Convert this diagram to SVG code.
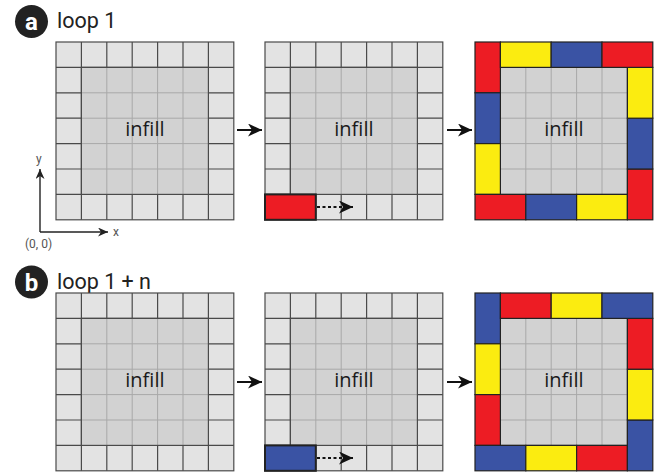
<svg xmlns="http://www.w3.org/2000/svg" xmlns:xlink="http://www.w3.org/1999/xlink" width="658" height="472" viewBox="0 0 658 472">
<style>
.lbl{font-family:Roboto,"Liberation Sans",sans-serif;font-size:21.5px;fill:#222}
.badge{font-family:Roboto,"Liberation Sans",sans-serif;font-size:24px;font-weight:bold;fill:#fff}
.infill{font-family:"Open Sans","Liberation Sans",sans-serif;font-size:20px;fill:#1a1a1a}
.ax{font-family:Roboto,"Liberation Sans",sans-serif;font-size:12px;fill:#555}
.dk{stroke:#4a4a4a;stroke-width:1.2;fill:none}
.lt{stroke:#a8a8a8;stroke-width:1;fill:none}
.blk{stroke:#222;stroke-width:1.2}
.r{fill:#ed1c24}.y{fill:#fbec10}.b{fill:#3a53a4}
.arr{stroke:#111;stroke-width:2;fill:none}
.dot{stroke:#111;stroke-width:2;fill:none;stroke-dasharray:3 2.5}
.axl{stroke:#222;stroke-width:1.4;fill:none}
</style>
<defs>
<marker id="ah" markerWidth="16" markerHeight="14" refX="14" refY="6.5" orient="auto" markerUnits="userSpaceOnUse">
<path d="M0,0 L14,6.5 L0,13 L4,6.5 z" fill="#111"/>
</marker>
<marker id="ahs" markerWidth="12" markerHeight="10" refX="10" refY="4.5" orient="auto" markerUnits="userSpaceOnUse">
<path d="M0,0 L10,4.5 L0,9 L3,4.5 z" fill="#222"/>
</marker>
<g id="inner">
<rect x="25.4" y="25.4" width="127" height="127" fill="#d2d2d2"/>
<path class="lt" d="M50.8,25.4V152.4M76.2,25.4V152.4M101.6,25.4V152.4M127,25.4V152.4M25.4,50.8H152.4M25.4,76.2H152.4M25.4,101.6H152.4M25.4,127H152.4"/>
<rect class="dk" x="25.4" y="25.4" width="127" height="127"/>
</g>
<g id="grid">
<rect x="0" y="0" width="177.8" height="177.8" fill="#e3e3e3"/>
<path class="dk" d="M25.4,0V177.8M50.8,0V177.8M76.2,0V177.8M101.6,0V177.8M127,0V177.8M152.4,0V177.8M0,25.4H177.8M0,50.8H177.8M0,76.2H177.8M0,101.6H177.8M0,127H177.8M0,152.4H177.8"/>
<use xlink:href="#inner"/>
<rect class="dk" x="0" y="0" width="177.8" height="177.8"/>
</g>
</defs>

<g id="label-a">
<circle cx="31.5" cy="21.5" r="16.5" fill="#222"/>
<text class="badge" x="31.5" y="30" text-anchor="middle">a</text>
<text class="lbl" x="57" y="28">loop 1</text>
</g>
<g id="label-b">
<circle cx="31.5" cy="282" r="16.5" fill="#222"/>
<text class="badge" x="31.5" y="290.5" text-anchor="middle">b</text>
<text class="lbl" x="57" y="289">loop 1 + n</text>
</g>

<g id="grid-a1" transform="translate(56,42)">
<use xlink:href="#grid"/>
<text class="infill" x="88.9" y="93.5" text-anchor="middle">infill</text>
</g>
<g id="grid-a2" transform="translate(265,42)">
<use xlink:href="#grid"/>
<rect class="r blk" x="0" y="152.4" width="50.8" height="25.4" style="stroke-width:2"/>
<text class="infill" x="88.9" y="93.5" text-anchor="middle">infill</text>
</g>
<g id="grid-a3" transform="translate(475,42)">
<rect x="0" y="0" width="177.8" height="177.8" fill="#e3e3e3"/>
<use xlink:href="#inner"/>
<rect class="r blk" x="0" y="0" width="25.4" height="50.8"/>
<rect class="b blk" x="0" y="50.8" width="25.4" height="50.8"/>
<rect class="y blk" x="0" y="101.6" width="25.4" height="50.8"/>
<rect class="r blk" x="0" y="152.4" width="50.8" height="25.4"/>
<rect class="b blk" x="50.8" y="152.4" width="50.8" height="25.4"/>
<rect class="y blk" x="101.6" y="152.4" width="50.8" height="25.4"/>
<rect class="r blk" x="152.4" y="127" width="25.4" height="50.8"/>
<rect class="b blk" x="152.4" y="76.2" width="25.4" height="50.8"/>
<rect class="y blk" x="152.4" y="25.4" width="25.4" height="50.8"/>
<rect class="y blk" x="25.4" y="0" width="50.8" height="25.4"/>
<rect class="b blk" x="76.2" y="0" width="50.8" height="25.4"/>
<rect class="r blk" x="127" y="0" width="50.8" height="25.4"/>
<text class="infill" x="88.9" y="93.5" text-anchor="middle">infill</text>
</g>

<g id="grid-b1" transform="translate(56,293)">
<use xlink:href="#grid"/>
<text class="infill" x="88.9" y="93.5" text-anchor="middle">infill</text>
</g>
<g id="grid-b2" transform="translate(265,293)">
<use xlink:href="#grid"/>
<rect class="b blk" x="0" y="152.4" width="50.8" height="25.4" style="stroke-width:2"/>
<text class="infill" x="88.9" y="93.5" text-anchor="middle">infill</text>
</g>
<g id="grid-b3" transform="translate(475,293)">
<rect x="0" y="0" width="177.8" height="177.8" fill="#e3e3e3"/>
<use xlink:href="#inner"/>
<rect class="b blk" x="0" y="0" width="25.4" height="50.8"/>
<rect class="y blk" x="0" y="50.8" width="25.4" height="50.8"/>
<rect class="r blk" x="0" y="101.6" width="25.4" height="50.8"/>
<rect class="b blk" x="0" y="152.4" width="50.8" height="25.4"/>
<rect class="y blk" x="50.8" y="152.4" width="50.8" height="25.4"/>
<rect class="r blk" x="101.6" y="152.4" width="50.8" height="25.4"/>
<rect class="b blk" x="152.4" y="127" width="25.4" height="50.8"/>
<rect class="y blk" x="152.4" y="76.2" width="25.4" height="50.8"/>
<rect class="r blk" x="152.4" y="25.4" width="25.4" height="50.8"/>
<rect class="r blk" x="25.4" y="0" width="50.8" height="25.4"/>
<rect class="y blk" x="76.2" y="0" width="50.8" height="25.4"/>
<rect class="b blk" x="127" y="0" width="50.8" height="25.4"/>
<text class="infill" x="88.9" y="93.5" text-anchor="middle">infill</text>
</g>

<g id="axes">
<path class="axl" d="M40,232V169" marker-end="url(#ahs)"/>
<path class="axl" d="M40,232H108" marker-end="url(#ahs)"/>
<text class="ax" x="36" y="163">y</text>
<text class="ax" x="113" y="236">x</text>
<text class="ax" x="25" y="248">(0, 0)</text>
</g>

<g id="connectors">
<path class="arr" d="M237,130H262" marker-end="url(#ah)"/>
<path class="arr" d="M447,130H472" marker-end="url(#ah)"/>
<path class="arr" d="M237,382H262" marker-end="url(#ah)"/>
<path class="arr" d="M447,382H472" marker-end="url(#ah)"/>
<path class="dot" d="M317,207H353" marker-end="url(#ah)"/>
<path class="dot" d="M317,458H353" marker-end="url(#ah)"/>
</g>
</svg>
